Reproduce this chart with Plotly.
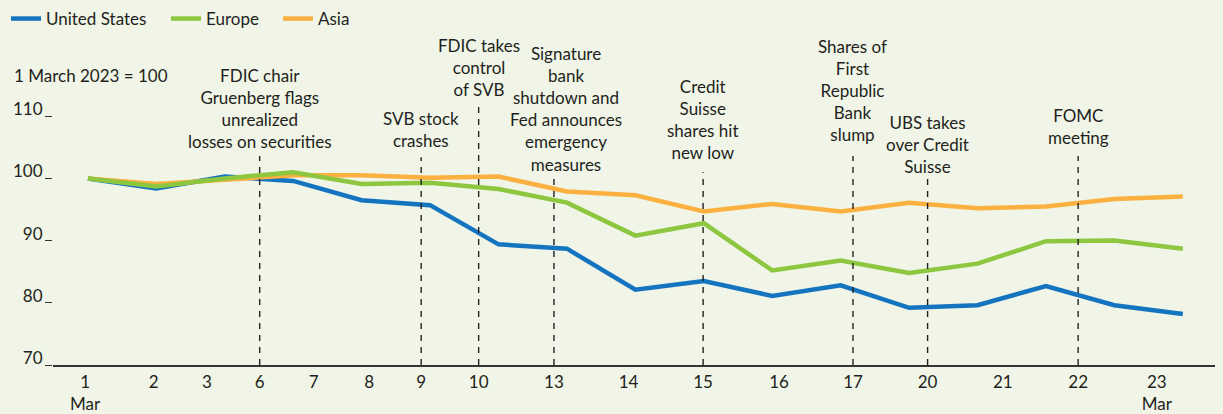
import plotly.graph_objects as go

# ---- data ----
date_labels = ["1<br>Mar", "2", "3", "6", "7", "8", "9", "10", "13", "14", "15",
               "16", "17", "20", "21", "22", "23<br>Mar"]
# where each date label sits on the (evenly spaced) observation axis
date_label_pos = [-0.04, 0.96, 1.74, 2.51, 3.30, 4.11, 4.87, 5.71, 6.81, 7.90,
                  8.99, 10.10, 11.18, 12.27, 13.37, 14.47, 15.62]

united_states = [100.0, 98.4, 100.3, 99.6, 96.5, 95.7, 89.4, 88.7, 82.1, 83.5,
                 81.1, 82.8, 79.2, 79.6, 82.7, 79.6, 78.2]
europe = [100.0, 98.7, 100.0, 101.0, 99.1, 99.3, 98.3, 96.1, 90.8, 92.8,
          85.2, 86.8, 84.8, 86.3, 89.9, 90.0, 88.7]
asia = [100.0, 99.1, 99.8, 100.5, 100.5, 100.1, 100.3, 97.9, 97.3, 94.7,
        95.9, 94.7, 96.1, 95.2, 95.5, 96.7, 97.1]

event_dates = ["6", "9", "10", "13", "15", "17", "20", "22"]
event_texts = [
    "FDIC chair<br>Gruenberg flags<br>unrealized<br>losses on securities",
    "SVB stock<br>crashes",
    "FDIC takes<br>control<br>of SVB",
    "Signature<br>bank<br>shutdown and<br>Fed announces<br>emergency<br>measures",
    "Credit<br>Suisse<br>shares hit<br>new low",
    "Shares of<br>First<br>Republic<br>Bank<br>slump",
    "UBS takes<br>over Credit<br>Suisse",
    "FOMC<br>meeting",
]
event_line_top = [103.6, 103.4, 112.2, 100.0, 101.0, 103.6, 100.0, 103.6]
event_text_y = [111.3, 107.8, 117.9, 111.2, 109.5, 114.1, 105.5, 108.3]
event_text_shift = [0, 0, 0, 12, 0, 0, 0, 0]

y_ticks = [70, 80, 90, 100, 110]

# ---- styling ----
BG = "#f0f5e7"
TXT = "#231f20"
FONT = "Lato"
C_US = "#1574c0"
C_EU = "#8dc63f"
C_AS = "#fbb040"
PLOT_L, PLOT_W = 53, 1162

x = list(range(len(united_states)))
fig = go.Figure()
fig.add_trace(go.Scatter(x=x, y=united_states, name="United States", mode="lines",
                         line=dict(color=C_US, width=4.5), legend="legend"))
fig.add_trace(go.Scatter(x=x, y=asia, name="Asia", mode="lines",
                         line=dict(color=C_AS, width=4.5), legend="legend3"))
fig.add_trace(go.Scatter(x=x, y=europe, name="Europe", mode="lines",
                         line=dict(color=C_EU, width=4.5), legend="legend2"))

pos_of = {lab.split("<br>")[0]: p for lab, p in zip(date_labels, date_label_pos)}

for d, txt, top, ty, sh in zip(event_dates, event_texts, event_line_top,
                               event_text_y, event_text_shift):
    xp = pos_of[d]
    fig.add_shape(type="line", x0=xp, x1=xp, y0=70, y1=top, xref="x", yref="y",
                  line=dict(color="#222222", width=1.4, dash="6px,6px"))
    fig.add_annotation(x=xp, y=ty, xref="x", yref="y", text=txt, showarrow=False,
                       xanchor="center", yanchor="middle", xshift=sh,
                       font=dict(family=FONT, size=17, color=TXT))

fig.add_annotation(x=(12 - PLOT_L) / PLOT_W, y=116.6, xref="paper", yref="y",
                   text="1 March 2023 = 100", showarrow=False,
                   xanchor="left", yanchor="middle",
                   font=dict(family=FONT, size=17, color=TXT))


def leg(px):
    return dict(orientation="h", x=(px - PLOT_L) / PLOT_W, xanchor="left",
                y=(365 - 19) / 311, yanchor="middle", bgcolor="rgba(0,0,0,0)",
                font=dict(family=FONT, size=17, color=TXT))


fig.update_layout(
    width=1223, height=414,
    margin=dict(l=PLOT_L, r=8, t=54, b=49, autoexpand=False),
    paper_bgcolor=BG, plot_bgcolor=BG,
    font=dict(family=FONT, size=17, color=TXT),
    showlegend=True,
    legend=leg(6), legend2=leg(166), legend3=leg(278),
    xaxis=dict(range=[-0.51, 16.47], tickmode="array", tickvals=date_label_pos,
               ticktext=date_labels, showgrid=False, zeroline=False,
               showline=True, linecolor="#333333", linewidth=1.5, ticks="",
               ticklabelstandoff=1, automargin=False,
               tickfont=dict(family=FONT, size=17, color=TXT)),
    yaxis=dict(range=[70, 120], tickmode="array", tickvals=y_ticks,
               showgrid=False, zeroline=False, showline=False, automargin=False,
               ticks="outside", ticklen=7, tickwidth=1.3, tickcolor="#333333",
               ticklabelshift=-7, ticklabelstandoff=-1,
               tickfont=dict(family=FONT, size=17, color=TXT)),
)

fig.write_html("out.html", config={"displayModeBar": False},
               post_script="document.body.style.margin='0';"
                           "document.body.style.background='" + BG + "';")
